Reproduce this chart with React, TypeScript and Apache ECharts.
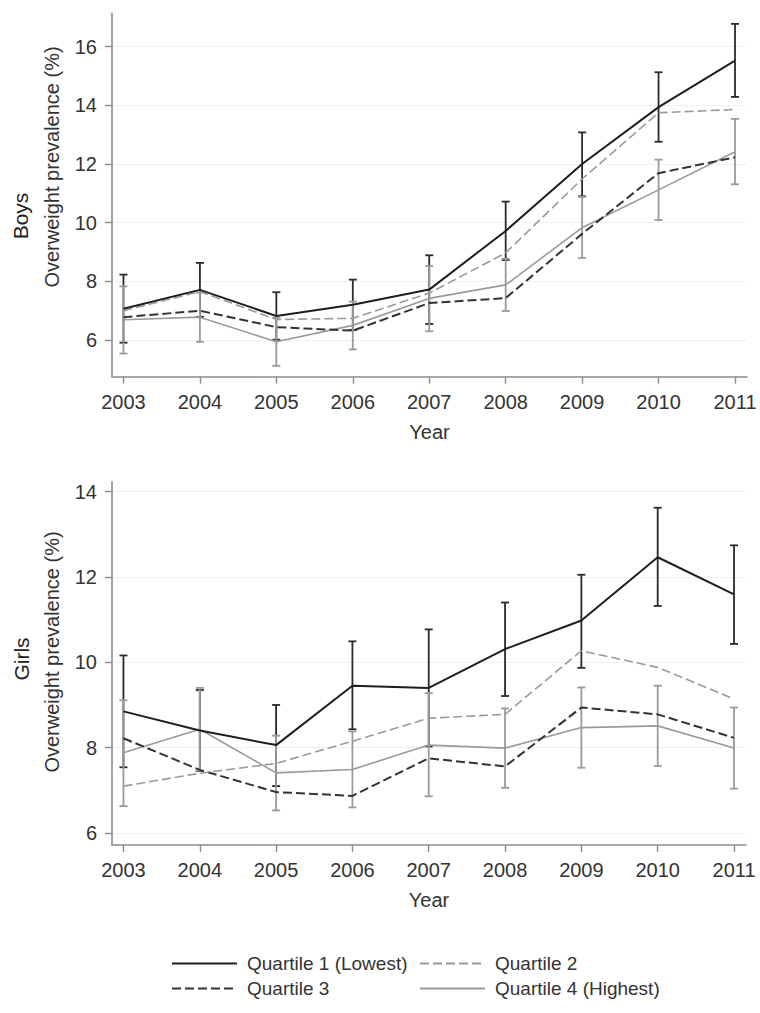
import React, { useEffect, useRef } from "react";
import * as echarts from "echarts";

const years = [2003, 2004, 2005, 2006, 2007, 2008, 2009, 2010, 2011];
const boysTicks = [6, 8, 10, 12, 14, 16];
const girlsTicks = [6, 8, 10, 12, 14];

const seriesNames = ["Quartile 1 (Lowest)", "Quartile 2", "Quartile 3", "Quartile 4 (Highest)"];

// Boys
const boysQ1 = [7.07, 7.71, 6.82, 7.2, 7.72, 9.72, 12.0, 13.94, 15.53];
const boysQ1Lo = [5.91, 6.79, 6.01, 6.34, 6.55, 8.73, 10.9, 12.76, 14.29];
const boysQ1Hi = [8.23, 8.63, 7.63, 8.06, 8.89, 10.72, 13.08, 15.13, 16.78];
const boysQ2 = [7.0, 7.65, 6.7, 6.74, 7.6, 8.97, 11.49, 13.75, 13.86];
const boysQ3 = [6.78, 7.0, 6.44, 6.32, 7.26, 7.43, 9.62, 11.69, 12.23];
const boysQ4 = [6.69, 6.78, 5.94, 6.5, 7.42, 7.88, 9.83, 11.12, 12.42];
const boysQ4Lo = [5.54, 5.94, 5.12, 5.68, 6.3, 6.99, 8.8, 10.09, 11.31];
const boysQ4Hi = [7.83, 7.62, 6.76, 7.31, 8.52, 8.77, 10.88, 12.15, 13.54];

// Girls
const girlsQ1 = [8.85, 8.4, 8.06, 9.45, 9.4, 10.31, 10.98, 12.46, 11.59];
const girlsQ1Lo = [7.54, 7.45, 7.1, 8.43, 8.03, 9.21, 9.87, 11.32, 10.43];
const girlsQ1Hi = [10.16, 9.35, 9.0, 10.49, 10.77, 11.4, 12.05, 13.62, 12.74];
const girlsQ2 = [7.1, 7.4, 7.63, 8.15, 8.69, 8.78, 10.27, 9.88, 9.14];
const girlsQ3 = [8.22, 7.48, 6.96, 6.87, 7.75, 7.56, 8.94, 8.78, 8.23];
const girlsQ4 = [7.88, 8.43, 7.41, 7.49, 8.06, 7.99, 8.47, 8.51, 7.99];
const girlsQ4Lo = [6.63, 7.46, 6.53, 6.6, 6.86, 7.06, 7.53, 7.57, 7.04];
const girlsQ4Hi = [9.11, 9.4, 8.28, 8.38, 9.28, 8.92, 9.41, 9.45, 8.94];

const FONT = "'Liberation Sans', Arial, Helvetica, sans-serif";
const AXIS_COLOR = "#8c8c8c";
const TEXT_COLOR = "#333";

const lineStyles = [
  { color: "#1e1e1e", width: 2, type: "solid" },
  { color: "#9a9a9a", width: 1.6, type: [9, 4] },
  { color: "#333333", width: 2, type: [9, 4] },
  { color: "#9a9a9a", width: 1.6, type: "solid" },
];

function pairs(vals: number[]) {
  return years.map((y, i) => [y, vals[i]]);
}
function ci(lo: number[], hi: number[]) {
  return years.map((y, i) => [y, lo[i], hi[i]]);
}

function errorSeries(name: string, data: number[][], color: string, idx: number, z: number) {
  return {
    type: "custom",
    name,
    xAxisIndex: idx,
    yAxisIndex: idx,
    z,
    silent: true,
    encode: { x: 0, y: [1, 2] },
    data,
    renderItem: (params: any, api: any) => {
      const x = api.value(0);
      const lo = api.coord([x, api.value(1)]);
      const hi = api.coord([x, api.value(2)]);
      const c = 4;
      const st = { stroke: color, lineWidth: 1.8 };
      return {
        type: "group",
        children: [
          { type: "line", shape: { x1: lo[0], y1: lo[1], x2: hi[0], y2: hi[1] }, style: st },
          { type: "line", shape: { x1: lo[0] - c, y1: lo[1], x2: lo[0] + c, y2: lo[1] }, style: st },
          { type: "line", shape: { x1: hi[0] - c, y1: hi[1], x2: hi[0] + c, y2: hi[1] }, style: st },
        ],
      };
    },
  };
}

function lineSeries(nameIdx: number, vals: number[], idx: number) {
  const ls = lineStyles[nameIdx];
  return {
    type: "line",
    name: seriesNames[nameIdx],
    xAxisIndex: idx,
    yAxisIndex: idx,
    data: pairs(vals),
    symbol: "none",
    z: 5 - nameIdx + 3,
    lineStyle: { color: ls.color, width: ls.width, type: ls.type },
    itemStyle: { color: ls.color },
  };
}

function xAxisCfg(idx: number) {
  return {
    type: "value",
    gridIndex: idx,
    min: 2002.85,
    max: 2011.157,
    name: "Year",
    nameLocation: "middle",
    nameGap: 45,
    nameTextStyle: { fontSize: 20, color: TEXT_COLOR, fontFamily: FONT },
    axisLine: { show: true, onZero: false, lineStyle: { color: AXIS_COLOR, width: 1.6 } },
    axisTick: { show: true, length: 7, customValues: years, lineStyle: { color: AXIS_COLOR, width: 1.4 } },
    axisLabel: {
      customValues: years,
      fontSize: 20,
      color: TEXT_COLOR,
      fontFamily: FONT,
      margin: 15,
      formatter: (v: number) => String(Math.round(v)),
    },
    splitLine: { show: false },
  };
}

function yAxisCfg(idx: number, min: number, max: number, ticks: number[]) {
  return {
    type: "value",
    gridIndex: idx,
    min,
    max,
    axisLine: { show: true, onZero: false, lineStyle: { color: AXIS_COLOR, width: 1.6 } },
    axisTick: { show: true, length: 7, customValues: ticks, lineStyle: { color: AXIS_COLOR, width: 1.4 } },
    axisLabel: {
      customValues: ticks,
      fontSize: 20,
      color: TEXT_COLOR,
      fontFamily: FONT,
      margin: 15,
      formatter: (v: number) => String(Math.round(v)),
    },
    splitLine: { show: true, lineStyle: { color: "#f0f0f0", width: 1 } },
  };
}

function vText(text: string, x: number, y: number, size: number, color: string) {
  return {
    type: "text",
    x,
    y,
    rotation: Math.PI / 2,
    style: {
      text,
      fontSize: size,
      fontFamily: FONT,
      fill: color,
      textAlign: "center",
      textVerticalAlign: "middle",
    },
  };
}

function legendCfg(names: string[], left: number) {
  return {
    data: names,
    orient: "vertical",
    left,
    top: 954,
    padding: 0,
    itemWidth: 65,
    itemHeight: 14,
    itemGap: 6,
    itemStyle: { opacity: 0 },
    textStyle: { fontSize: 19, color: TEXT_COLOR, fontFamily: FONT, padding: [0, 0, 0, 5] },
    selectedMode: false,
  };
}

export default function App() {
  const ref = useRef<HTMLDivElement>(null);
  useEffect(() => {
    if (!ref.current) return;
    const chart = echarts.init(ref.current, null, { renderer: "svg" });
    const option: any = {
      animation: false,
      backgroundColor: "#ffffff",
      grid: [
        { left: 112, top: 13.3, width: 635, height: 363.4, containLabel: false, outerBoundsMode: "none" },
        { left: 112, top: 481.7, width: 634, height: 363.3, containLabel: false, outerBoundsMode: "none" },
      ],
      xAxis: [xAxisCfg(0), xAxisCfg(1)],
      yAxis: [yAxisCfg(0, 4.75, 17.14, boysTicks), yAxisCfg(1, 5.72, 14.23, girlsTicks)],
      legend: [legendCfg([seriesNames[0], seriesNames[2]], 171), legendCfg([seriesNames[1], seriesNames[3]], 419)],
      graphic: [
        vText("Boys", 20, 216, 21, "#222"),
        vText("Overweight prevalence (%)", 52, 167, 20, TEXT_COLOR),
        vText("Girls", 21, 659, 21, "#222"),
        vText("Overweight prevalence (%)", 52, 652, 20, TEXT_COLOR),
      ],
      series: [
        errorSeries("Q1 CI boys", ci(boysQ1Lo, boysQ1Hi), "#2a2a2a", 0, 2),
        errorSeries("Q4 CI boys", ci(boysQ4Lo, boysQ4Hi), "#9a9a9a", 0, 3),
        lineSeries(3, boysQ4, 0),
        lineSeries(2, boysQ3, 0),
        lineSeries(1, boysQ2, 0),
        lineSeries(0, boysQ1, 0),
        errorSeries("Q1 CI girls", ci(girlsQ1Lo, girlsQ1Hi), "#2a2a2a", 1, 2),
        errorSeries("Q4 CI girls", ci(girlsQ4Lo, girlsQ4Hi), "#9a9a9a", 1, 3),
        lineSeries(3, girlsQ4, 1),
        lineSeries(2, girlsQ3, 1),
        lineSeries(1, girlsQ2, 1),
        lineSeries(0, girlsQ1, 1),
      ],
    };
    chart.setOption(option);
    return () => chart.dispose();
  }, []);
  return (
    <div
      ref={ref}
      style={{ position: "fixed", left: 0, top: 0, width: 760, height: 1013, background: "#fff" }}
    />
  );
}
